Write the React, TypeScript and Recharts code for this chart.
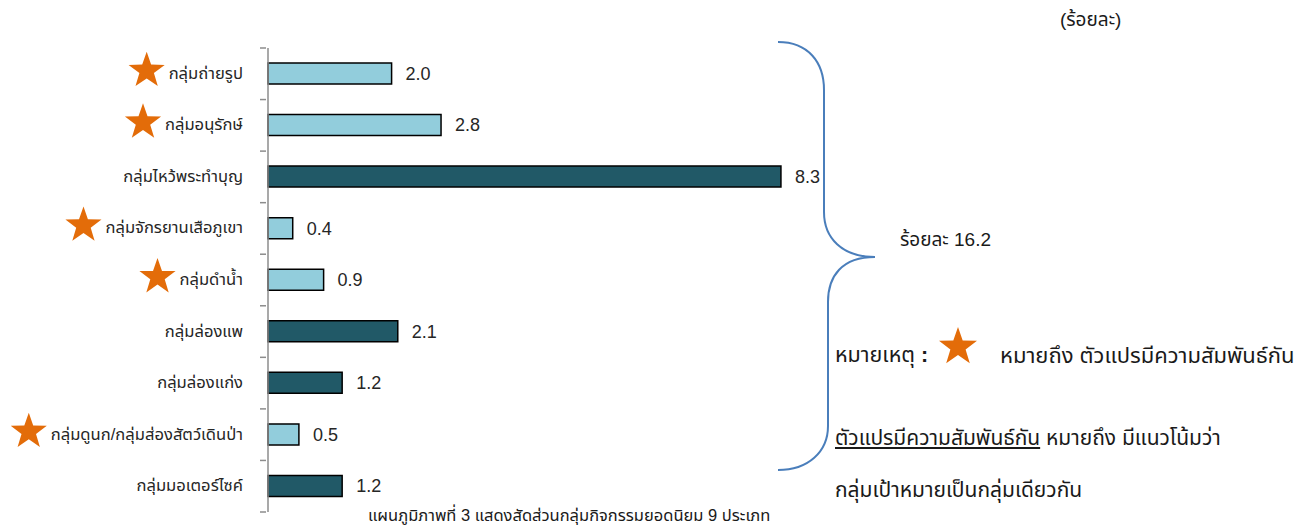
import React from 'react';
import { BarChart, Bar, XAxis, YAxis, Cell, LabelList } from 'recharts';

const categories = [
  'กลุ่มถ่ายรูป',
  'กลุ่มอนุรักษ์',
  'กลุ่มไหว้พระทำบุญ',
  'กลุ่มจักรยานเสือภูเขา',
  'กลุ่มดำน้ำ',
  'กลุ่มล่องแพ',
  'กลุ่มล่องแก่ง',
  'กลุ่มดูนก/กลุ่มส่องสัตว์เดินป่า',
  'กลุ่มมอเตอร์ไซค์',
];
const shares = [2.0, 2.8, 8.3, 0.4, 0.9, 2.1, 1.2, 0.5, 1.2];
// starred = variables are related (light bars)
const starred = [true, true, false, true, true, false, false, true, false];

const data = categories.map((name, i) => ({ name, value: shares[i], star: starred[i] }));

const FONT = "Arial, 'Liberation Sans', Tahoma, 'Noto Sans Thai', sans-serif";
const LIGHT = '#92CDDC';
const DARK = '#215967';
const ORANGE = '#E36C09';

const W = 1314;
const H = 528;
const PLOT_TOP = 48;
const PLOT_BOTTOM = 16;
const PLOT_H = H - PLOT_TOP - PLOT_BOTTOM;
const BAND = PLOT_H / categories.length;
const LABEL_SIZE = 16.6;

let measureCtx: CanvasRenderingContext2D | null = null;
const textWidth = (s: string, size: number) => {
  if (!measureCtx) measureCtx = document.createElement('canvas').getContext('2d');
  if (!measureCtx) return s.length * size * 0.5;
  measureCtx.font = `${size}px ${FONT}`;
  return measureCtx.measureText(s).width;
};

const starPoints = (cx: number, cy: number, r: number) => {
  const pts: string[] = [];
  for (let i = 0; i < 10; i++) {
    const rad = i % 2 === 0 ? r : r * 0.4;
    const a = -Math.PI / 2 + (i * Math.PI) / 5;
    pts.push(`${(cx + rad * Math.cos(a)).toFixed(1)},${(cy + rad * Math.sin(a)).toFixed(1)}`);
  }
  return pts.join(' ');
};

const CategoryTick = (props: any) => {
  const { x, y, payload, index } = props;
  const label = payload.value as string;
  const axisX = x + 6;
  const tw = textWidth(label, LABEL_SIZE);
  const isLast = index === categories.length - 1;
  return (
    <g>
      <line x1={axisX} x2={axisX - 6} y1={y - BAND / 2} y2={y - BAND / 2} stroke="#8c8c8c" strokeWidth={1.5} />
      {isLast && (
        <line x1={axisX} x2={axisX - 6} y1={y + BAND / 2} y2={y + BAND / 2} stroke="#8c8c8c" strokeWidth={1.5} />
      )}
      <text x={x - 17} y={y} dy={5} textAnchor="end" fontSize={LABEL_SIZE} fill="#262626" fontFamily={FONT}>
        {label}
      </text>
      {starred[index] && <polygon points={starPoints(x - 17 - tw - 22, y - 3, 19)} fill={ORANGE} />}
    </g>
  );
};

const Overlay = () => (
  <svg width={W} height={H} style={{ position: 'absolute', left: 0, top: 0, pointerEvents: 'none' }}>
    <path
      d="M778,42 C808,42 824,62 824,90 L824,212 C824,238 842,257 875,257 C842,257 828,276 828,302 L828,426 C828,452 808,470 778,470"
      fill="none"
      stroke="#4A7EBB"
      strokeWidth={2}
    />
    <polygon points={starPoints(958, 347, 20)} fill={ORANGE} />
  </svg>
);

const txt: React.CSSProperties = {
  position: 'absolute',
  fontFamily: FONT,
  color: '#1a1a1a',
  whiteSpace: 'nowrap',
  lineHeight: 1,
};

export default function App() {
  return (
    <div style={{ position: 'absolute', left: 0, top: 0, width: W, height: H, background: '#fff' }}>
      <BarChart
        width={W}
        height={H}
        data={data}
        layout="vertical"
        margin={{ top: PLOT_TOP, right: 428, bottom: PLOT_BOTTOM, left: 18 }}
      >
        <XAxis type="number" domain={[0, 10]} hide />
        <YAxis
          type="category"
          dataKey="name"
          width={250}
          axisLine={{ stroke: '#8c8c8c', strokeWidth: 1.5 }}
          tickLine={false}
          tick={<CategoryTick />}
          interval={0}
        />
        <Bar dataKey="value" barSize={21} stroke="#000" strokeWidth={1.5} isAnimationActive={false}>
          {data.map((d, i) => (
            <Cell key={i} fill={d.star ? LIGHT : DARK} />
          ))}
          <LabelList
            dataKey="value"
            position="right"
            offset={14}
            formatter={(v: any) => Number(v).toFixed(1)}
            style={{ fontSize: 18, fill: '#262626', fontFamily: FONT }}
          />
        </Bar>
      </BarChart>
      <Overlay />
      <div style={{ ...txt, left: 1060, top: 10, fontSize: 19 }}>(ร้อยละ)</div>
      <div style={{ ...txt, left: 900, top: 230, fontSize: 19 }}>ร้อยละ 16.2</div>
      <div style={{ ...txt, left: 835, top: 345, fontSize: 21.5 }}>
        หมายเหตุ <b>:</b>
      </div>
      <div style={{ ...txt, left: 1000, top: 345, fontSize: 22 }}>หมายถึง ตัวแปรมีความสัมพันธ์กัน</div>
      <div style={{ ...txt, left: 835, top: 427, fontSize: 21 }}>
        <span style={{ textDecoration: 'underline' }}>ตัวแปรมีความสัมพันธ์กัน</span> หมายถึง มีแนวโน้มว่า
      </div>
      <div style={{ ...txt, left: 835, top: 479, fontSize: 21 }}>กลุ่มเป้าหมายเป็นกลุ่มเดียวกัน</div>
      <div style={{ ...txt, left: 368, top: 507, fontSize: 16.5 }}>
        แผนภูมิภาพที่ 3 แสดงสัดส่วนกลุ่มกิจกรรมยอดนิยม 9 ประเภท
      </div>
    </div>
  );
}
